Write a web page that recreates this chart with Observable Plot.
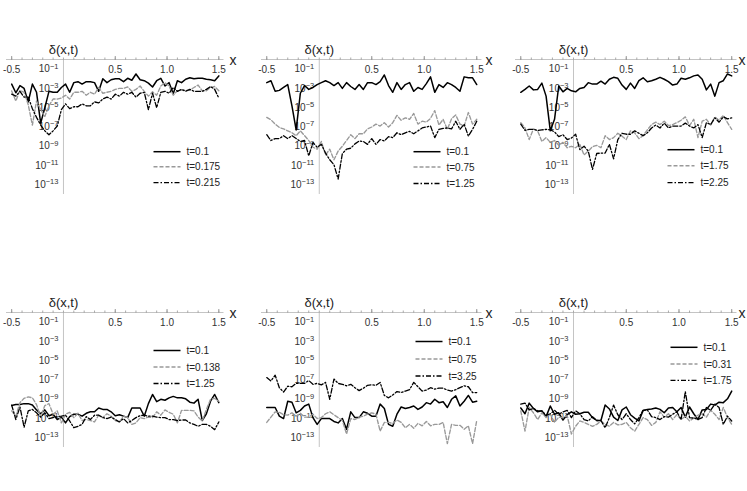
<!DOCTYPE html>
<html><head><meta charset="utf-8">
<script src="https://cdn.jsdelivr.net/npm/d3@7"></script>
<script src="https://cdn.jsdelivr.net/npm/@observablehq/plot@0.6"></script>
<style>
html,body{margin:0;padding:0;background:#fff;overflow:hidden;}
#wrap{position:relative;width:747px;height:491px;overflow:hidden;background:#fff;}
#wrap svg{position:absolute;}
</style></head><body><div id="wrap"></div>
<script>
// ---------- DATA ----------
const xGrid = [-0.5,-0.46,-0.42,-0.38,-0.34,-0.3,-0.26,-0.22,-0.18,-0.14,-0.1,-0.06,-0.02,0.02,0.06,0.1,0.14,0.18,0.22,0.26,0.3,0.34,0.38,0.42,0.46,0.5,0.54,0.58,0.62,0.66,0.7,0.74,0.78,0.82,0.86,0.9,0.94,0.98,1.02,1.06,1.1,1.14,1.18,1.22,1.26,1.3,1.34,1.38,1.42,1.46,1.5];

// log10 of delta(x,t)
const p1_t0100 = [-2.55,-3.45,-2.7,-3.0,-4.4,-2.55,-3.4,-6.6,-5.0,-3.3,-3.4,-3.4,-2.9,-2.55,-3.4,-2.4,-2.3,-2.55,-2.3,-2.3,-2.4,-3.3,-2.0,-2.4,-2.1,-2.0,-2.0,-2.3,-1.95,-2.15,-1.5,-2.1,-2.2,-2.45,-2.85,-2.2,-1.95,-2.75,-2.4,-3.55,-2.2,-2.4,-2.05,-1.9,-2.0,-1.95,-1.95,-2.05,-2.1,-2.2,-1.7];
const p1_t0175 = [-3.26,-4.3,-3.2,-3.4,-4.7,-6.8,-4.3,-5.2,-5.9,-4.8,-4.1,-4.1,-4.0,-3.7,-4.1,-3.4,-3.4,-3.3,-3.7,-3.4,-3.6,-2.9,-3.5,-3.4,-3.3,-3.1,-3.0,-3.0,-2.85,-3.3,-3.1,-2.75,-3.3,-3.8,-3.35,-3.7,-2.75,-2.4,-2.75,-3.7,-3.25,-3.15,-3.2,-3.2,-2.9,-2.65,-3.25,-3.25,-2.9,-2.8,-3.25];
const p1_t0215 = [-3.6,-3.8,-3.3,-3.9,-3.9,-5.1,-6.0,-6.8,-7.4,-7.8,-7.4,-6.9,-5.2,-4.6,-5.1,-4.9,-4.9,-4.6,-4.8,-4.8,-4.4,-4.5,-4.1,-3.9,-4.1,-3.6,-3.8,-3.4,-3.6,-3.4,-3.9,-3.5,-3.4,-5.2,-3.5,-5.0,-3.4,-3.3,-3.5,-2.9,-3.3,-3.1,-3.3,-3.1,-3.3,-3.3,-3.3,-3.1,-2.8,-3.1,-4.0];

const p2_t0100 = [-2.4,-2.2,-3.3,-3.2,-2.9,-2.6,-4.8,-7.3,-3.5,-2.7,-3.1,-2.9,-2.6,-2.4,-2.2,-2.4,-2.7,-2.4,-3.0,-2.4,-2.8,-3.1,-2.6,-3.1,-2.4,-2.4,-2.6,-2.3,-1.6,-2.7,-3.4,-2.4,-3.1,-2.6,-2.4,-3.3,-2.9,-3.1,-2.5,-1.8,-3.4,-2.6,-2.9,-2.4,-2.6,-2.9,-3.3,-1.8,-1.9,-1.9,-2.6];
const p2_t0750 = [-6.0,-6.25,-6.7,-7.05,-7.2,-7.4,-7.6,-7.9,-7.4,-7.9,-8.4,-9.1,-9.3,-8.5,-9.9,-9.3,-10.4,-9.5,-9.0,-8.4,-7.8,-8.2,-7.7,-7.7,-7.2,-7.0,-6.7,-6.9,-6.55,-7.0,-6.55,-5.8,-6.3,-6.05,-6.2,-5.6,-6.7,-6.4,-6.5,-6.1,-5.3,-6.8,-6.2,-7.25,-6.15,-5.75,-6.7,-6.9,-5.5,-6.7,-6.2];
const p2_t1250 = [-7.8,-8.4,-8.2,-8.2,-7.9,-8.2,-7.9,-8.2,-8.5,-8.4,-10.0,-8.6,-9.1,-8.8,-9.7,-10.4,-10.9,-12.4,-9.75,-9.3,-9.2,-8.75,-8.45,-8.5,-8.8,-8.2,-8.8,-8.3,-8.45,-8.0,-8.1,-7.6,-7.8,-7.6,-7.45,-7.7,-7.4,-7.1,-7.0,-6.9,-8.1,-7.25,-7.15,-7.1,-7.2,-6.4,-7.25,-6.7,-7.95,-7.25,-6.4];

const p3_t0100 = [-3.4,-3.1,-2.75,-3.15,-3.1,-2.45,-3.8,-7.4,-6.2,-2.75,-3.35,-3.0,-3.25,-3.35,-3.0,-2.9,-2.4,-2.55,-2.55,-2.25,-2.55,-2.05,-1.85,-1.95,-2.65,-3.1,-2.45,-3.0,-2.2,-1.9,-2.3,-2.2,-2.05,-1.85,-2.05,-2.3,-2.65,-2.55,-1.95,-2.05,-1.9,-1.7,-1.6,-2.05,-3.15,-2.55,-3.8,-2.4,-2.2,-1.5,-1.7];
const p3_t1750 = [-6.55,-7.1,-8.3,-7.2,-7.4,-8.5,-8.1,-8.6,-8.4,-8.9,-8.6,-9.15,-9.0,-9.15,-8.8,-9.9,-9.5,-9.05,-8.9,-9.15,-7.9,-8.3,-8.1,-7.65,-7.95,-8.3,-7.4,-7.6,-8.2,-7.9,-7.3,-6.75,-6.5,-6.75,-6.4,-6.85,-6.75,-6.55,-6.3,-5.95,-6.85,-6.2,-8.1,-6.4,-6.2,-6.8,-5.95,-6.3,-5.8,-6.55,-7.25];
const p3_t2250 = [-6.7,-7.35,-7.25,-7.25,-7.35,-7.3,-7.25,-7.3,-7.5,-8.0,-7.8,-8.3,-8.15,-7.75,-9.35,-9.0,-9.5,-11.4,-9.75,-9.7,-9.7,-8.8,-10.3,-8.3,-7.65,-7.75,-7.75,-7.4,-7.65,-7.9,-7.6,-7.1,-6.8,-7.1,-6.6,-7.1,-6.9,-6.9,-6.9,-6.6,-6.9,-7.1,-6.75,-8.1,-6.55,-6.75,-6.05,-6.5,-5.95,-6.15,-6.05];

const p4_t0100 = [-9.65,-9.55,-9.55,-9.45,-9.45,-9.6,-10.1,-10.5,-10.1,-10.7,-10.55,-11.1,-10.85,-11.45,-10.8,-10.55,-10.55,-10.75,-10.45,-10.3,-10.3,-9.9,-10.05,-10.05,-10.3,-10.7,-10.6,-10.75,-10.9,-9.9,-9.9,-9.9,-10.75,-9.45,-8.5,-9.25,-9.0,-9.1,-8.85,-8.7,-8.85,-8.85,-8.95,-9.3,-9.4,-9.0,-11.2,-10.5,-9.2,-8.5,-9.35];
const p4_t0138 = [-10.2,-10.75,-9.35,-8.9,-8.75,-8.85,-9.55,-10.85,-9.65,-9.45,-10.55,-10.2,-11.45,-10.55,-10.35,-10.9,-10.45,-11.2,-11.1,-11.2,-11.35,-10.65,-10.9,-10.5,-10.75,-11.2,-11.35,-10.75,-10.9,-11.6,-11.45,-10.9,-11.0,-10.85,-10.9,-10.3,-10.65,-10.1,-10.35,-10.55,-11.45,-10.15,-10.15,-10.15,-10.2,-10.85,-11.25,-10.05,-9.0,-8.9,-9.2];
const p4_t1250 = [-9.6,-11.1,-9.8,-11.9,-10.2,-10.05,-10.4,-10.85,-10.4,-11.0,-10.9,-10.8,-10.75,-10.65,-11.25,-11.95,-11.8,-11.6,-10.8,-11.1,-10.65,-10.65,-10.9,-11.0,-10.85,-11.1,-11.35,-11.0,-11.45,-11.2,-10.9,-10.7,-10.65,-10.75,-10.75,-10.85,-10.9,-10.9,-11.1,-11.1,-11.2,-11.15,-11.15,-11.45,-11.6,-11.8,-11.6,-11.6,-11.8,-12.15,-11.35];

const p5_t0100 = [-9.85,-9.85,-9.85,-10.75,-11.0,-9.2,-9.3,-10.4,-10.15,-9.7,-9.5,-10.9,-11.6,-11.0,-11.0,-11.0,-11.3,-11.45,-11.0,-12.1,-10.3,-10.9,-10.9,-10.3,-10.45,-10.75,-10.75,-9.5,-9.95,-11.6,-11.8,-10.55,-9.8,-9.95,-9.85,-9.7,-10.05,-9.8,-9.35,-9.5,-9.0,-9.35,-9.25,-9.85,-9.0,-8.65,-9.7,-9.2,-8.6,-9.3,-9.2];
const p5_t0750 = [-11.4,-10.85,-10.3,-10.35,-10.6,-10.65,-10.4,-10.75,-10.45,-10.85,-10.85,-10.55,-11.0,-10.9,-10.5,-10.3,-10.6,-10.9,-11.2,-12.6,-11.0,-11.1,-10.85,-10.75,-10.55,-10.4,-10.55,-12.3,-11.4,-11.4,-11.5,-11.15,-11.4,-11.95,-11.6,-12.0,-11.5,-11.75,-11.3,-11.75,-11.6,-11.6,-11.4,-13.6,-11.6,-11.7,-11.7,-12.1,-11.75,-13.6,-11.2];
const p5_t3250 = [-6.75,-7.1,-6.5,-7.8,-8.25,-7.65,-7.7,-7.35,-7.35,-7.35,-7.05,-7.45,-7.35,-7.5,-7.25,-9.0,-6.9,-7.35,-7.45,-7.6,-7.45,-7.8,-8.1,-7.85,-7.55,-7.5,-7.55,-7.25,-8.6,-8.85,-8.55,-8.2,-8.3,-8.15,-8.0,-7.25,-7.7,-8.15,-8.05,-7.8,-7.95,-7.85,-7.85,-8.05,-8.15,-8.0,-7.8,-7.6,-7.7,-8.3,-8.3];

const p6_t0100 = [-9.9,-10.5,-9.4,-9.95,-10.3,-10.2,-10.8,-9.7,-10.55,-10.4,-11.15,-10.6,-10.3,-10.55,-10.5,-10.35,-10.35,-10.9,-11.2,-11.2,-9.6,-10.0,-10.85,-11.2,-10.1,-9.8,-10.6,-10.95,-11.25,-10.15,-10.05,-10.0,-9.9,-10.05,-10.4,-9.9,-9.85,-10.3,-9.85,-10.85,-9.8,-10.5,-11.1,-10.1,-10.05,-9.5,-9.6,-9.3,-9.35,-8.95,-8.15];
const p6_t0310 = [-10.2,-12.3,-9.85,-10.4,-11.1,-10.4,-10.9,-10.55,-11.4,-10.85,-10.9,-10.7,-12.6,-11.8,-11.25,-11.4,-11.6,-11.8,-11.6,-11.25,-11.6,-11.8,-11.4,-11.65,-11.6,-11.4,-11.95,-12.3,-11.6,-10.9,-11.1,-11.7,-11.4,-10.3,-10.85,-10.5,-11.1,-10.6,-11.1,-10.75,-11.25,-10.95,-10.65,-10.5,-10.85,-10.15,-10.55,-11.1,-9.85,-10.9,-11.6];
const p6_t1750 = [-9.5,-9.4,-10.1,-9.95,-10.2,-10.2,-10.65,-10.5,-10.15,-10.55,-10.3,-10.15,-10.9,-10.2,-10.5,-11.1,-11.25,-10.8,-11.2,-11.2,-11.95,-10.9,-9.6,-10.6,-11.1,-10.5,-11.1,-11.55,-10.9,-10.15,-10.1,-10.8,-10.9,-11.1,-10.8,-10.85,-10.55,-10.3,-11.1,-8.2,-10.9,-10.95,-11.1,-10.9,-9.85,-10.15,-9.5,-9.85,-11.6,-10.75,-11.25];

const legend1 = ["t=0.1", "t=0.175", "t=0.215"];
const legend2 = ["t=0.1", "t=0.75", "t=1.25"];
const legend3 = ["t=0.1", "t=1.75", "t=2.25"];
const legend4 = ["t=0.1", "t=0.138", "t=1.25"];
const legend5 = ["t=0.1", "t=0.75", "t=3.25"];
const legend6 = ["t=0.1", "t=0.31", "t=1.75"];

const xTickValues = [-0.5, 0.5, 1.0, 1.5];
const xTickLabels = ["-0.5", "0.5", "1.0", "1.5"];
const xMinorTicks = [-0.5,-0.4,-0.3,-0.2,-0.1,0,0.1,0.2,0.3,0.4,0.5,0.6,0.7,0.8,0.9,1.0,1.1,1.2,1.3,1.4,1.5];
const yTickValues = [1e-1, 1e-3, 1e-5, 1e-7, 1e-9, 1e-11, 1e-13];
const yTickLabels = ["10⁻¹", "10⁻³", "10⁻⁵", "10⁻⁷", "10⁻⁹", "10⁻¹¹", "10⁻¹³"];
const yTitle = "δ(x,t)";
const xTitle = "x";

// ---------- LAYOUT / STYLE ----------
const panels = [
  {series: [p1_t0100, p1_t0175, p1_t0215], legend: legend1, left: 6,     top: 59.3,  w: 217.5, rows: [92.7, 107.7, 123.7], lx: [-70, -43], xdx: 9},
  {series: [p2_t0100, p2_t0750, p2_t1250], legend: legend2, left: 260.5, top: 59.3,  w: 220.5, rows: [92.7, 108, 124.5],   lx: [-68, -41], xdx: 7},
  {series: [p3_t0100, p3_t1750, p3_t2250], legend: legend3, left: 514.5, top: 59.3,  w: 221.5, rows: [90.7, 106.7, 123.7], lx: [-69, -42], xdx: 5},
  {series: [p4_t0100, p4_t0138, p4_t1250], legend: legend4, left: 6,     top: 311.7, w: 217.5, rows: [38.5, 55, 71.5],     lx: [-70, -43], xdx: 9},
  {series: [p5_t0100, p5_t0750, p5_t3250], legend: legend5, left: 260.5, top: 311.7, w: 220.5, rows: [29.5, 47, 64],       lx: [-66, -39], xdx: 7},
  {series: [p6_t0100, p6_t0310, p6_t1750], legend: legend6, left: 514.5, top: 311.7, w: 221.5, rows: [35.3, 52, 68.3],     lx: [-66, -39], xdx: 5}
];
const frameH = 135;
const M = {l: 10, r: 20, t: 30, b: 8};
const lineStyles = [
  {stroke: "#000000", strokeWidth: 1.5, dash: null},
  {stroke: "#999999", strokeWidth: 1.35, dash: "4,2"},
  {stroke: "#000000", strokeWidth: 1.3, dash: "5,2,1.5,2"}
];
const axisColor = "#c4c4c4";
const textColor = "#333";

const wrap = document.getElementById("wrap");

panels.forEach(p => {
  const W = p.w + M.l + M.r;
  const H = frameH + M.t + M.b;
  const lineMarks = p.series.map((logs, k) => {
    const rows = xGrid.map((x, i) => ({x, y: Math.pow(10, logs[i])}));
    const s = lineStyles[k];
    return Plot.line(rows, {x: "x", y: "y", stroke: s.stroke, strokeWidth: s.strokeWidth,
      strokeDasharray: s.dash || undefined, strokeLinejoin: "round"});
  });
  const legendMark = () => {
    const g = d3.create("svg:g");
    const right = M.l + p.w;
    p.legend.forEach((lab, k) => {
      const y = M.t + p.rows[k];
      const s = lineStyles[k];
      const ln = g.append("line").attr("x1", right + p.lx[0]).attr("x2", right + p.lx[1])
        .attr("y1", y).attr("y2", y).attr("stroke", s.stroke).attr("stroke-width", s.strokeWidth);
      if (s.dash) ln.attr("stroke-dasharray", s.dash);
      g.append("text").attr("x", right + p.lx[1] + 6).attr("y", y).attr("dy", "0.35em")
        .attr("text-anchor", "start").attr("font-size", 10).attr("fill", "#222").text(lab);
    });
    return g.node();
  };
  const svg = Plot.plot({
    width: W, height: H,
    marginLeft: M.l, marginRight: M.r, marginTop: M.t, marginBottom: M.b,
    style: {fontFamily: "'Liberation Sans', Arial, sans-serif", fontSize: "10px", background: "transparent", color: textColor, overflow: "visible"},
    x: {domain: [-0.55, 1.55]},
    y: {type: "log", domain: [1e-14, 1], axis: null},
    marks: [
      Plot.ruleY([1], {stroke: axisColor, strokeWidth: 1}),
      Plot.ruleX([0], {stroke: axisColor, strokeWidth: 1}),
      Plot.axisX({anchor: "top", ticks: xMinorTicks, tickSize: 2.5, fill: "none", stroke: "#aaa", label: null}),
      Plot.axisX({anchor: "top", ticks: xTickValues, tickSize: 4, fill: "none", stroke: "#999", label: null}),
      Plot.text(xTickValues, {x: d => d, frameAnchor: "top", lineAnchor: "middle", dy: 10, text: (d, i) => xTickLabels[i], fill: textColor, fontSize: 10}),
      Plot.text(yTickValues, {x: yTickValues.map(() => 0), y: d => d, text: (d, i) => yTickLabels[i], textAnchor: "end", lineAnchor: "middle", dx: -5, fill: textColor, fontSize: 10}),
      Plot.text([yTitle], {x: [0], frameAnchor: "top", lineAnchor: "middle", dy: -10, fontSize: 13, fill: "#222"}),
      Plot.text([xTitle], {frameAnchor: "top-right", lineAnchor: "middle", dx: p.xdx, dy: 1.5, fontSize: 14, textAnchor: "middle", fill: "#222"}),
      ...lineMarks,
      legendMark
    ]
  });
  // render superscripts of y tick labels with tspans
  const sup = {"⁻": "−", "⁰": "0", "¹": "1", "²": "2", "³": "3", "⁴": "4", "⁵": "5", "⁶": "6", "⁷": "7", "⁸": "8", "⁹": "9"};
  d3.select(svg).selectAll("text").each(function() {
    const t = this.textContent;
    const m = t.match(/^10([⁻⁰¹²³⁴⁵⁶⁷⁸⁹]+)$/);
    if (m) {
      const e = [...m[1]].map(c => sup[c]).join("");
      const sel = d3.select(this);
      sel.text("");
      sel.append("tspan").text("10");
      sel.append("tspan").attr("dy", "-0.5em").attr("font-size", "7.5px").text(e);
    }
  });
  svg.style.position = "absolute";
  svg.style.left = (p.left - M.l) + "px";
  svg.style.top = (p.top - M.t) + "px";
  svg.style.maxWidth = "none";
  wrap.appendChild(svg);
});
</script>
</body></html>
